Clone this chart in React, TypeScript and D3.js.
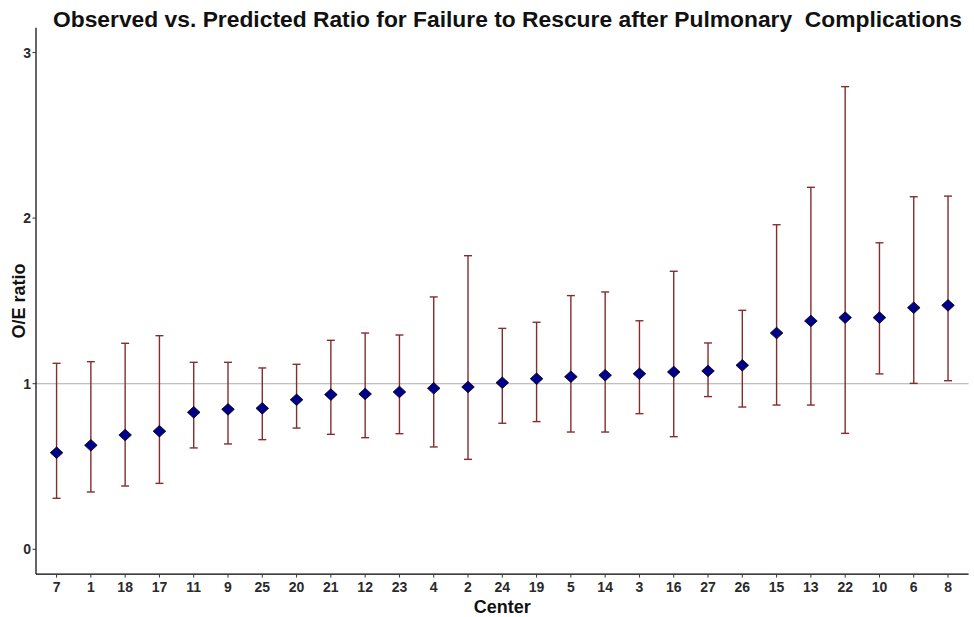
import React from "react";
import * as d3 from "d3";

const centers = ["7","1","18","17","11","9","25","20","21","12","23","4","2","24","19","5","14","3","16","27","26","15","13","22","10","6","8"];
const oeRatio = [0.583,0.628,0.690,0.713,0.827,0.845,0.851,0.903,0.934,0.938,0.950,0.972,0.980,1.006,1.030,1.042,1.051,1.060,1.071,1.077,1.111,1.306,1.379,1.399,1.399,1.459,1.473];
const lowerCI = [0.308,0.346,0.382,0.398,0.612,0.636,0.662,0.732,0.694,0.674,0.698,0.618,0.543,0.761,0.771,0.708,0.708,0.819,0.680,0.922,0.859,0.871,0.871,0.700,1.059,1.002,1.018];
const upperCI = [1.123,1.133,1.244,1.290,1.129,1.129,1.095,1.117,1.262,1.306,1.294,1.524,1.773,1.334,1.371,1.532,1.554,1.380,1.679,1.246,1.443,1.960,2.186,2.794,1.851,2.129,2.133];
const yTicks = [0, 1, 2, 3];
const refValue = 1;

const W = 974, H = 617;
const FONT = "'Liberation Sans', Arial, sans-serif";

export default function App() {
  const left = 36, right = 968.6, top = 27.7, bottom = 574.1;
  const x = d3.scalePoint<string>().domain(centers).range([left, right]).padding(0.6);
  const y = d3.scaleLinear().domain([-0.15, 3.15]).range([bottom, top]);
  const capHalf = 4;
  const dW = 6.3, dH = 5.8;
  const barColor = "#862C2C";

  return (
    <svg width={W} height={H} style={{ position: "absolute", left: 0, top: 0, background: "#fff" }} fontFamily={FONT}>
      <rect x={0} y={0} width={W} height={H} fill="#fff" />
      <text x={507.5} y={26.5} textAnchor="middle" fontSize={22.5} fontWeight="bold" fill="#111"
        textLength={909} lengthAdjust="spacingAndGlyphs" style={{ whiteSpace: "pre" }}>
        {"Observed vs. Predicted Ratio for Failure to Rescure after Pulmonary  Complications"}
      </text>
      {/* reference line */}
      <line x1={left} x2={right} y1={y(refValue)} y2={y(refValue)} stroke="#ABABAB" strokeWidth={1.1} />
      {/* error bars */}
      {centers.map((c, i) => {
        const cx = x(c)!;
        return (
          <g key={"e" + c} stroke={barColor} strokeWidth={1.4}>
            <line x1={cx} x2={cx} y1={y(lowerCI[i])} y2={y(upperCI[i])} />
            <line x1={cx - capHalf} x2={cx + capHalf} y1={y(lowerCI[i])} y2={y(lowerCI[i])} />
            <line x1={cx - capHalf} x2={cx + capHalf} y1={y(upperCI[i])} y2={y(upperCI[i])} />
          </g>
        );
      })}
      {/* points */}
      {centers.map((c, i) => {
        const cx = x(c)!;
        const cy = y(oeRatio[i]);
        const pts = [[cx, cy - dH], [cx + dW, cy], [cx, cy + dH], [cx - dW, cy]].map(p => p.join(",")).join(" ");
        return <polygon key={"p" + c} points={pts} fill="#00008B" stroke="#000" strokeWidth={0.8} />;
      })}
      {/* axes */}
      <line x1={left} x2={left} y1={top} y2={bottom} stroke="#000" strokeWidth={1.2} />
      <line x1={left} x2={right} y1={bottom} y2={bottom} stroke="#000" strokeWidth={1.2} />
      {yTicks.map(t => (
        <g key={"yt" + t}>
          <line x1={left - 3.5} x2={left} y1={y(t)} y2={y(t)} stroke="#333" strokeWidth={1} />
          <text x={left - 5} y={y(t) + 5} textAnchor="end" fontSize={14} fontWeight="bold" fill="#2a2a2a">{t}</text>
        </g>
      ))}
      {centers.map(c => (
        <g key={"xt" + c}>
          <line x1={x(c)!} x2={x(c)!} y1={bottom} y2={bottom + 3.5} stroke="#333" strokeWidth={1} />
          <text x={x(c)!} y={591.5} textAnchor="middle" fontSize={14} fontWeight="bold" fill="#2a2a2a">{c}</text>
        </g>
      ))}
      <text x={(left + right) / 2} y={613} textAnchor="middle" fontSize={18} fontWeight="bold" fill="#111">Center</text>
      <text transform={`translate(24.5, ${(top + bottom) / 2}) rotate(-90)`} textAnchor="middle" fontSize={18} fontWeight="bold" fill="#111">O/E ratio</text>
    </svg>
  );
}
